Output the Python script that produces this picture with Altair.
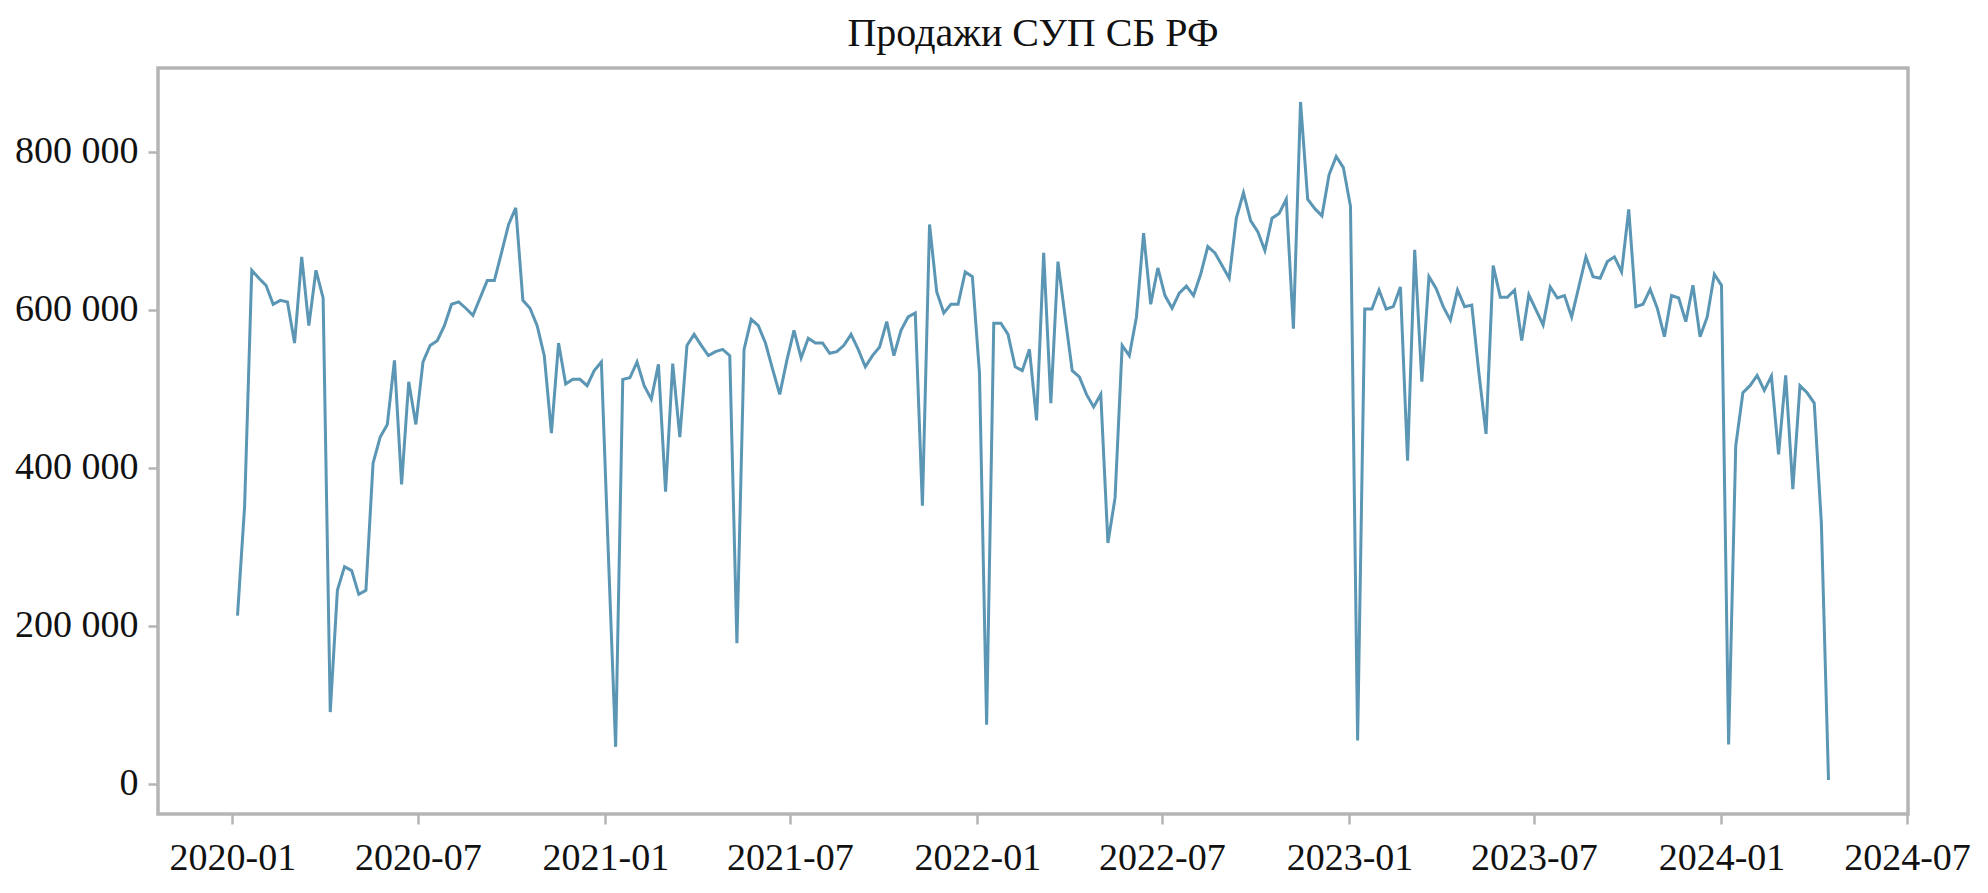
import altair as alt
import pandas as pd

# Weekly sales (thousands), weeks starting 2020-01-06
sales_2020 = [213, 352, 650, 640, 631, 607, 612, 610, 558, 667, 580, 650, 615, 91,
              245, 275, 270, 240, 245, 406, 439, 455, 536, 379, 509, 455, 534, 555,
              561, 580, 607, 610, 602, 593, 615, 637, 637, 672, 708, 729, 612, 602,
              580, 542, 444, 558, 506, 512, 512, 504, 523, 534, 286]
sales_2021 = [47, 512, 514, 534, 504, 487, 531, 370, 532, 439, 555, 569, 555, 542,
              547, 550, 542, 178, 550, 588, 580, 558, 525, 493, 536, 574, 539, 564,
              558, 558, 545, 547, 555, 569, 550, 528, 542, 553, 585, 542, 574, 591,
              596, 352, 708, 623, 596, 607, 607, 648, 642, 520]
sales_2022 = [75, 583, 583, 569, 528, 523, 550, 460, 672, 482, 661, 591, 523, 515,
              493, 477, 493, 305, 362, 555, 542, 591, 697, 607, 653, 618, 602, 621,
              630, 618, 645, 680, 672, 656, 640, 716, 748, 713, 699, 675, 716, 722,
              740, 576, 863, 740, 728, 719, 771, 794, 780, 731]
sales_2023 = [55, 601, 601, 625, 601, 604, 629, 409, 676, 509, 642, 627, 604, 587,
              625, 604, 606, 520, 443, 656, 616, 616, 625, 561, 619, 600, 581, 629,
              615, 618, 591, 629, 667, 642, 640, 661, 667, 648, 727, 604, 607, 626,
              602, 566, 618, 615, 585, 631, 566, 591, 645, 631]
sales_2024 = [50, 428, 495, 504, 517, 498, 516, 417, 517, 373, 504, 495, 482, 330, 5]

first_week = "2020-01-06"
x_ticks = ["2020-01-01", "2020-07-01", "2021-01-01", "2021-07-01", "2022-01-01",
           "2022-07-01", "2023-01-01", "2023-07-01", "2024-01-01", "2024-07-01"]
y_ticks = [0, 200000, 400000, 600000, 800000]
title_text = "Продажи СУП СБ РФ"

values = [v * 1000 for v in sales_2020 + sales_2021 + sales_2022 + sales_2023 + sales_2024]
dates = pd.date_range(first_week, periods=len(values), freq="7D")
df = pd.DataFrame({"date": dates.strftime("%Y-%m-%d"), "sales": values})

FONT = "Liberation Serif"
GRAY = "#b5b5b5"

x_tick_dt = [alt.DateTime(year=int(s[:4]), month=int(s[5:7]), date=1, utc=True) for s in x_ticks]

chart = alt.Chart(df).mark_line(color="#5b96b4", strokeWidth=3).encode(
    x=alt.X("date:T",
            scale=alt.Scale(type="utc",
                            domain=[alt.DateTime(year=2019, month=10, date=20, utc=True),
                                    alt.DateTime(year=2024, month=7, date=2, utc=True)]),
            axis=alt.Axis(values=x_tick_dt, title=None, grid=False, domain=False,
                          labelExpr="utcFormat(datum.value, '%Y-%m')",
                          tickColor=GRAY, tickWidth=2.5, tickSize=10,
                          labelPadding=15, labelFont=FONT, labelFontSize=38,
                          labelColor="#111111", labelFlush=False, labelOverlap=False)),
    y=alt.Y("sales:Q",
            scale=alt.Scale(domain=[-38000, 906000], nice=False, zero=False),
            axis=alt.Axis(values=y_ticks, title=None, grid=False, domain=False,
                          labelExpr="replace(format(datum.value, ','), ',', ' ')",
                          tickColor=GRAY, tickWidth=2.5, tickSize=10,
                          labelPadding=10, labelFont=FONT, labelFontSize=38,
                          labelColor="#111111")),
).properties(
    width=1750,
    height=746,
    title=alt.TitleParams(text=title_text, font=FONT, fontSize=40, fontWeight="normal",
                          color="#111111", anchor="middle", baseline="alphabetic",
                          offset=22, dy=40),
    padding={"left": 150, "top": 60, "right": 70, "bottom": 70},
    autosize=alt.AutoSizeParams(type="none"),
).configure(
    background="white"
).configure_view(
    stroke=GRAY, strokeWidth=3.5
)

chart.save("out.html", embed_options={"renderer": "svg", "actions": False})
